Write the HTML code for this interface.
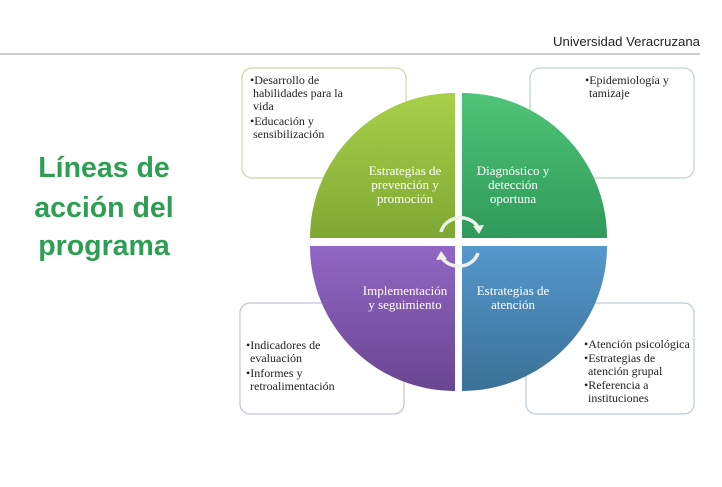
<!DOCTYPE html>
<html><head><meta charset="utf-8"><style>
body{margin:0;width:722px;height:482px;background:#fff;overflow:hidden}
</style></head><body>
<svg width="722" height="482" viewBox="0 0 722 482" xmlns="http://www.w3.org/2000/svg" font-family="Liberation Serif, serif">
<defs>
<linearGradient id="gg" x1="0" y1="0" x2="0" y2="1"><stop offset="0" stop-color="#a8d04a"/><stop offset="1" stop-color="#7fa832"/></linearGradient>
<linearGradient id="gt" x1="0" y1="0" x2="0" y2="1"><stop offset="0" stop-color="#4fc477"/><stop offset="1" stop-color="#2f9a5a"/></linearGradient>
<linearGradient id="gp" x1="0" y1="0" x2="0" y2="1"><stop offset="0" stop-color="#9266c4"/><stop offset="1" stop-color="#6a4590"/></linearGradient>
<linearGradient id="gb" x1="0" y1="0" x2="0" y2="1"><stop offset="0" stop-color="#5598cc"/><stop offset="1" stop-color="#3a7096"/></linearGradient>
</defs>
<text x="700" y="46" text-anchor="end" font-family="Liberation Sans, sans-serif" font-size="13" fill="#222" textLength="147" lengthAdjust="spacingAndGlyphs">Universidad Veracruzana</text>
<line x1="0" y1="54" x2="700" y2="54" stroke="#bbb" stroke-width="1.5"/>
<g font-family="Liberation Sans, sans-serif" font-weight="bold" font-size="28.5" fill="#2e9e55" text-anchor="middle">
<text x="104" y="177">Líneas de</text>
<text x="104" y="217">acción del</text>
<text x="104" y="255">programa</text>
</g>
<g fill="#fff" stroke="#c8d8a8" stroke-width="1.2">
<rect x="242" y="68" width="164" height="110" rx="10"/>
<rect x="530" y="68" width="164" height="110" rx="10" stroke="#bcd6c4"/>
<rect x="240" y="303" width="164" height="111" rx="10" stroke="#c8c0d4"/>
<rect x="526" y="303" width="168" height="111" rx="10" stroke="#bcccd8"/>
</g>
<path d="M455 238 L310 238 A145 145 0 0 1 455 93 Z" fill="url(#gg)"/>
<path d="M462 238 L462 93 A145 145 0 0 1 607 238 Z" fill="url(#gt)"/>
<path d="M455 246 L455 391 A145 145 0 0 1 310 246 Z" fill="url(#gp)"/>
<path d="M462 246 L607 246 A145 145 0 0 1 462 391 Z" fill="url(#gb)"/>
<g fill="#fff" font-size="13" text-anchor="middle">
<text x="405" y="175">Estrategias de</text><text x="405" y="189">prevención y</text><text x="405" y="203">promoción</text>
<text x="513" y="175">Diagnóstico y</text><text x="513" y="189">detección</text><text x="513" y="203">oportuna</text>
<text x="405" y="295">Implementación</text><text x="405" y="309">y seguimiento</text>
<text x="513" y="295">Estrategias de</text><text x="513" y="309">atención</text>
</g>
<g fill="none" stroke="#eef0ea" stroke-width="3.5">
<path d="M441 232 A20 18 0 0 1 478 227"/>
<path d="M478 253 A20 18 0 0 1 442 258"/>
</g>
<polygon points="473,226 484,225 479,234" fill="#eef0ea"/>
<polygon points="447,259 436,260 441,251" fill="#eef0ea"/>
<g fill="#222" font-size="12">
<text x="250" y="84">•Desarrollo de</text><text x="253" y="97">habilidades para la</text><text x="253" y="110">vida</text>
<text x="250" y="125">•Educación y</text><text x="253" y="138">sensibilización</text>
<text x="585" y="84">•Epidemiología y</text><text x="589" y="97">tamizaje</text>
<text x="246" y="349">•Indicadores de</text><text x="250" y="362">evaluación</text>
<text x="246" y="377">•Informes y</text><text x="250" y="390">retroalimentación</text>
<text x="584" y="348">•Atención psicológica</text>
<text x="584" y="362">•Estrategias de</text><text x="588" y="375">atención grupal</text>
<text x="584" y="389">•Referencia a</text><text x="588" y="402">instituciones</text>
</g>
</svg>
</body></html>
